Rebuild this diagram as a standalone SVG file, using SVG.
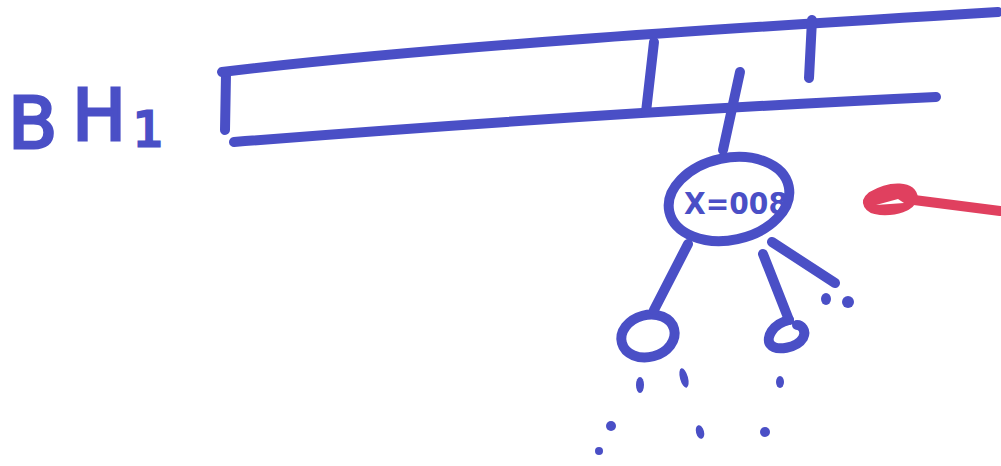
<svg xmlns="http://www.w3.org/2000/svg" width="1001" height="466" viewBox="0 0 1001 466">
<style>
.s{fill:none;stroke:#4a4fc6;stroke-width:10;stroke-linecap:round;stroke-linejoin:round}
.d{fill:#4a4fc6}
.r{fill:none;stroke:#e0405f;stroke-width:10;stroke-linecap:round;stroke-linejoin:round}
.t{fill:#4a4fc6;font-family:"DejaVu Sans",sans-serif}
</style>
<rect width="1001" height="466" fill="#ffffff"/>
<g id="label-bh1">
<text class="t" y="148" font-size="72" stroke="#4a4fc6" stroke-width="3"><tspan x="8">B</tspan><tspan x="72" y="140">H</tspan><tspan x="133" y="146" font-size="48">1</tspan></text>
</g>
<g id="bar">
<path class="s" d="M226,74 L225,130"/>
<path class="s" d="M222,72 C420,48 700,30 998,12"/>
<path class="s" d="M234,142 C450,125 700,108 936,97"/>
<path class="s" d="M654,42 L646,112"/>
<path class="s" d="M812,20 L809,78"/>
</g>
<g id="node-x">
<ellipse class="s" cx="729" cy="199" rx="61" ry="41" transform="rotate(-12 729 199)"/>
<text class="t" x="684" y="214" font-size="30" font-weight="bold" textLength="104" lengthAdjust="spacingAndGlyphs">X=008</text>
</g>
<g id="node-left">
<ellipse class="s" cx="648" cy="336" rx="27" ry="21" transform="rotate(-15 648 336)"/>
</g>
<g id="node-right">
<path class="s" d="M789,320 C772,324 766,338 770,344 C776,352 797,348 803,338 C807,330 801,325 797,325"/>
</g>
<g id="connectors">
<path class="s" d="M740,72 L723,150"/>
<path class="s" d="M688,244 L654,310"/>
<path class="s" d="M763,254 L789,320"/>
<path class="s" d="M772,242 L835,283"/>
</g>
<g id="dots">
<ellipse class="d" cx="826" cy="299" rx="5" ry="6"/>
<ellipse class="d" cx="848" cy="302" rx="6" ry="6"/>
<ellipse class="d" cx="640" cy="385" rx="4" ry="8"/>
<ellipse class="d" cx="684" cy="378" rx="4" ry="10" transform="rotate(-15 684 378)"/>
<ellipse class="d" cx="780" cy="382" rx="4" ry="6"/>
<ellipse class="d" cx="611" cy="426" rx="5" ry="5"/>
<ellipse class="d" cx="700" cy="432" rx="4" ry="7" transform="rotate(-15 700 432)"/>
<ellipse class="d" cx="765" cy="432" rx="5" ry="5"/>
<ellipse class="d" cx="599" cy="451" rx="4" ry="4"/>
</g>
<g id="arrow">
<path class="r" d="M1000,211 L914,200"/>
<path d="M916,198 C914,182 890,182 870,194 C860,202 866,212 880,213 C896,214 912,210 916,198 Z" fill="#e0405f" stroke="#e0405f" stroke-width="4" stroke-linejoin="round"/>
<path d="M876,205 L904,203 L898,199 Z" fill="#ffffff"/>
</g>
</svg>
